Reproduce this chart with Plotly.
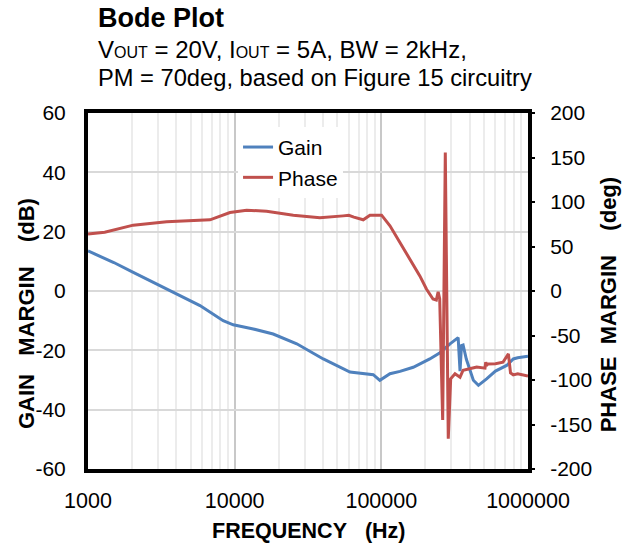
import plotly.graph_objects as go

FONT = "Arial, Liberation Sans, sans-serif"
BLUE = "#4F81BD"
RED = "#C0504D"

gain_freq = [1000, 1500, 2035, 3000, 4236, 5800, 8350, 9780, 13400, 18300, 26500,
             40200, 61100, 75000, 88100, 97700, 105000, 114500, 134000, 165000,
             214000, 251000, 294000, 326000, 334000, 344000, 352000, 361000,
             380000, 424000, 459000, 522000, 600000, 715000, 794000, 850000, 1000000]
gain_db = [13.5, 9.6, 6.3, 2.1, -1.6, -4.9, -10.0, -11.4, -12.8, -14.5, -17.8,
           -22.9, -27.3, -27.8, -28.2, -30.1, -29.0, -27.9, -27.1, -25.7,
           -22.9, -20.8, -17.8, -16.0, -15.7, -27.0, -18.4, -18.2,
           -23.0, -30.1, -31.8, -29.6, -27.0, -25.1, -22.9, -22.5, -22.0]

phase_freq = [1000, 1300, 2035, 3436, 6790, 8000, 9290, 12070, 16500, 25100, 38100,
              54900, 60000, 65000, 75300, 83600, 100400, 114500, 134000, 165000,
              183000, 203000, 225000, 237000, 244000, 250000, 262000, 273000,
              286000, 297000, 318000, 344000, 361000, 400000, 447000, 509000,
              515000, 522000, 530000, 600000, 675000, 735000, 760000, 794000,
              850000, 1000000]
phase_deg = [63.9, 66.0, 74.0, 77.7, 80.0, 84.0, 88.2, 90.8, 89.7, 85.2, 82.2,
             84.4, 85.0, 83.0, 80.0, 85.2, 85.2, 73.2, 54.6, 28.4,
             17.0, 2.2, -9.0, -10.1, -0.8, -9.0, -145.0, 155.5,
             -166.0, -98.7, -93.0, -96.8, -89.0, -87.4, -85.5, -86.7,
             -80.0, -84.0, -82.0, -81.8, -80.0, -70.6, -92.0, -94.2,
             -93.0, -95.6]

freq_ticks = [1000, 10000, 100000, 1000000]
freq_labels = ["1000", "10000", "100000", "1000000"]
gain_ticks = [-60, -40, -20, 0, 20, 40, 60]
gain_labels = ["-60", "-40", "-20", "0", "20", "40", "60"]
phase_ticks = [-200, -150, -100, -50, 0, 50, 100, 150, 200]
phase_labels = ["-200", "-150", "-100", "-50", "0", "50", "100", "150", "200"]

fig = go.Figure()
fig.add_trace(go.Scatter(x=gain_freq, y=gain_db, name="Gain", mode="lines",
                         line=dict(color=BLUE, width=3)))
fig.add_trace(go.Scatter(x=phase_freq, y=phase_deg, name="Phase", mode="lines",
                         line=dict(color=RED, width=3), yaxis="y2"))

fig.update_layout(
    width=631, height=544,
    margin=dict(l=88, r=103, t=113, b=75),
    paper_bgcolor="white", plot_bgcolor="white",
    font=dict(family=FONT, size=21, color="black"),
    showlegend=True,
    legend=dict(x=0.341, y=0.961, xanchor="left", yanchor="top",
                bgcolor="white", font=dict(size=21), tracegroupgap=0),
    xaxis=dict(type="log", range=[3, 6], tickvals=freq_ticks, ticktext=freq_labels,
               showgrid=True, gridcolor="#c8c8c8", gridwidth=1.5,
               minor=dict(showgrid=True, gridcolor="#ececec", gridwidth=1.5, dtick="D1"),
               showline=True, linecolor="black", linewidth=4, mirror=True,
               ticks="", ticklabelstandoff=9, zeroline=False,
               tickfont=dict(size=21.5)),
    yaxis=dict(range=[-60, 60], tickvals=gain_ticks, ticktext=gain_labels,
               showgrid=True, gridcolor="#d9d9d9",
               gridwidth=1.5, showline=True, linecolor="black", linewidth=4,
               mirror=True, ticks="", ticklabelstandoff=14, zeroline=False),
    yaxis2=dict(range=[-200, 200], tickvals=phase_ticks, ticktext=phase_labels,
                overlaying="y", side="right",
                showgrid=False, zeroline=False, ticks="outside", ticklen=6,
                tickwidth=2, tickcolor="black", ticklabelstandoff=11),
)

sub = "<span style='font-size:16px'>OUT</span>"
annotations = [
    dict(text="<b>Bode Plot</b>", x=0.018, y=1.267, font=dict(size=27)),
    dict(text="V" + sub + " = 20V, I" + sub + " = 5A, BW = 2kHz,",
         x=0.018, y=1.177, font=dict(size=24)),
    dict(text="PM = 70deg, based on Figure 15 circuitry", x=0.018, y=1.098,
         font=dict(size=23.7)),
]
for a in annotations:
    fig.add_annotation(xref="paper", yref="paper", xanchor="left", yanchor="middle",
                       showarrow=False, **a)

fig.add_annotation(text="<b>FREQUENCY&nbsp;&nbsp; (Hz)</b>", xref="paper", yref="paper",
                   x=0.502, y=-0.174, xanchor="center", yanchor="middle",
                   showarrow=False, font=dict(size=21.5))
fig.add_annotation(text="<b>GAIN&nbsp;&nbsp;&nbsp;MARGIN&nbsp;&nbsp;&nbsp;&nbsp;(dB)</b>",
                   xref="paper", yref="paper",
                   x=-0.141, y=0.438, textangle=-90, xanchor="center", yanchor="middle",
                   showarrow=False, font=dict(size=22))
fig.add_annotation(text="<b>PHASE&nbsp;&nbsp;MARGIN&nbsp;&nbsp;&nbsp;&nbsp;(deg)</b>",
                   xref="paper", yref="paper",
                   x=1.182, y=0.46, textangle=-90, xanchor="center", yanchor="middle",
                   showarrow=False, font=dict(size=22))

fig.write_html("out.html", config={"displayModeBar": False},
               post_script="document.body.style.margin='0';")
